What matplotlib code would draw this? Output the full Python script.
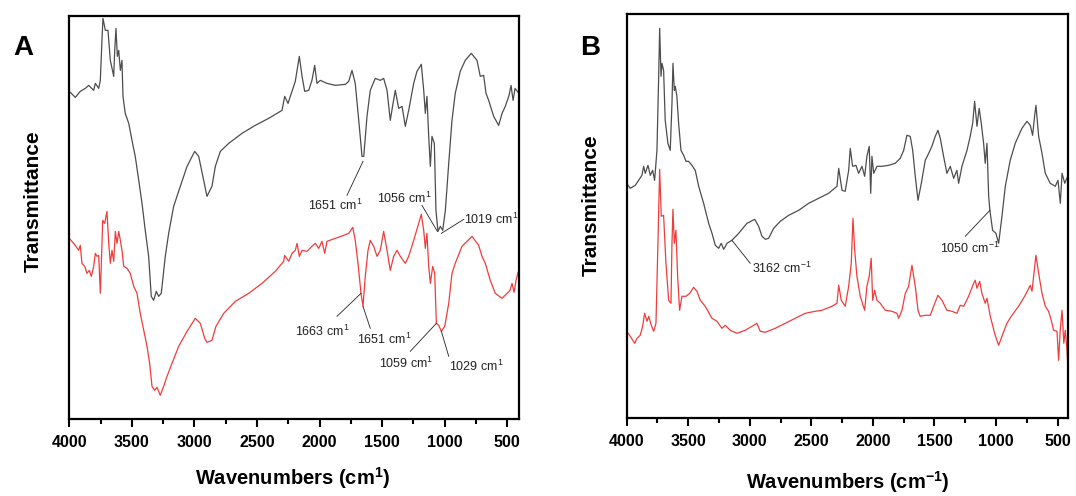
import matplotlib
matplotlib.use('Agg')
import matplotlib.pyplot as plt
import numpy as np

plt.rcParams['font.family'] = ['Liberation Sans', 'DejaVu Sans']
plt.rcParams['mathtext.fontset'] = 'custom'
plt.rcParams['mathtext.rm'] = 'Liberation Sans'
plt.rcParams['mathtext.bf'] = 'Liberation Sans:bold'

# ---- panel A : upper (gray) spectrum ----
a_gray_wn = [4000, 3952, 3912, 3872, 3845, 3805, 3792, 3765, 3752, 3739,
             3731, 3712, 3691, 3672, 3645, 3637, 3627, 3616, 3605, 3592,
             3579, 3571, 3553, 3525, 3499, 3473, 3445, 3419, 3393, 3366,
             3345, 3326, 3305, 3286, 3265, 3233, 3206, 3166, 3113, 3059,
             2998, 2966, 2926, 2900, 2860, 2833, 2793, 2726, 2620, 2514,
             2407, 2300, 2279, 2252, 2234, 2194, 2162, 2140, 2119, 2087,
             2061, 2039, 2021, 1994, 1941, 1874, 1794, 1767, 1741, 1715,
             1687, 1661, 1647, 1621, 1595, 1555, 1515, 1488, 1461, 1435,
             1413, 1395, 1368, 1341, 1315, 1288, 1248, 1222, 1187, 1168,
             1155, 1142, 1128, 1115, 1102, 1083, 1070, 1054, 1035, 1016,
             995, 968, 942, 916, 876, 836, 788, 742, 716, 689,
             670, 649, 609, 569, 542, 516, 486, 470, 454, 438,
             414]
a_gray_t = [328, 322, 328, 331, 334, 329, 336, 331, 339, 379,
            401, 389, 389, 359, 343, 369, 391, 363, 369, 349,
            359, 323, 306, 296, 279, 263, 239, 216, 189, 163,
            123, 119, 128, 123, 126, 163, 186, 213, 233, 253,
            268, 263, 239, 223, 233, 253, 268, 276, 286, 294,
            301, 309, 323, 316, 323, 338, 363, 343, 328, 329,
            339, 354, 336, 339, 336, 334, 335, 338, 349, 336,
            299, 263, 263, 303, 329, 341, 339, 341, 329, 299,
            316, 329, 311, 313, 293, 309, 336, 348, 355, 329,
            306, 323, 283, 253, 283, 276, 209, 188, 193, 189,
            209, 256, 299, 326, 348, 359, 366, 359, 343, 344,
            326, 319, 303, 294, 306, 313, 324, 334, 319, 331,
            327]

# ---- panel A : lower (red) spectrum ----
a_red_wn = [4000, 3952, 3925, 3912, 3899, 3877, 3859, 3840, 3824, 3805,
            3792, 3779, 3765, 3752, 3744, 3733, 3717, 3699, 3685, 3672,
            3659, 3645, 3632, 3619, 3605, 3592, 3579, 3565, 3539, 3513,
            3485, 3459, 3433, 3405, 3379, 3358, 3339, 3318, 3299, 3273,
            3246, 3219, 3179, 3126, 3059, 2993, 2953, 2918, 2900, 2860,
            2828, 2766, 2673, 2566, 2460, 2354, 2287, 2279, 2247, 2220,
            2194, 2180, 2162, 2140, 2101, 2061, 2034, 2007, 1981, 1959,
            1941, 1874, 1807, 1767, 1735, 1715, 1693, 1669, 1653, 1635,
            1613, 1595, 1568, 1541, 1515, 1488, 1461, 1435, 1408, 1381,
            1355, 1315, 1288, 1248, 1208, 1187, 1168, 1155, 1142, 1128,
            1115, 1096, 1080, 1067, 1048, 1027, 1000, 968, 942, 916,
            862, 782, 729, 702, 676, 636, 596, 542, 502, 478,
            462, 446, 430, 414]
a_red_t = [181, 174, 169, 174, 156, 153, 146, 149, 143, 153,
           166, 163, 164, 126, 156, 199, 196, 208, 176, 156,
           169, 158, 188, 176, 188, 179, 169, 153, 151, 146,
           133, 126, 106, 89, 73, 56, 33, 29, 32, 24,
           33, 43, 56, 73, 88, 101, 96, 81, 77, 79,
           93, 106, 118, 126, 136, 148, 158, 164, 158, 166,
           169, 176, 163, 169, 168, 173, 176, 171, 178, 166,
           178, 181, 184, 186, 192, 179, 156, 126, 113, 143,
           169, 179, 173, 163, 169, 188, 169, 149, 163, 169,
           163, 156, 163, 179, 196, 205, 189, 171, 186, 153,
           136, 153, 146, 96, 94, 88, 93, 116, 146, 156,
           173, 183, 174, 163, 156, 139, 126, 121, 126, 129,
           136, 127, 139, 147]

# ---- panel B : upper (gray) spectrum ----
b_gray_wn = [4000, 3971, 3930, 3903, 3876, 3862, 3849, 3827, 3808, 3789,
             3773, 3754, 3740, 3732, 3721, 3713, 3700, 3687, 3665, 3646,
             3632, 3624, 3613, 3605, 3592, 3578, 3559, 3537, 3518, 3497,
             3470, 3443, 3415, 3375, 3334, 3307, 3280, 3253, 3232, 3212,
             3185, 3145, 3090, 3023, 2960, 2928, 2901, 2874, 2847, 2806,
             2753, 2684, 2603, 2522, 2441, 2360, 2292, 2278, 2251, 2225,
             2197, 2184, 2165, 2138, 2116, 2089, 2067, 2049, 2030, 2018,
             2008, 1994, 1967, 1927, 1872, 1819, 1778, 1750, 1724, 1697,
             1677, 1656, 1634, 1607, 1575, 1547, 1521, 1494, 1472, 1453,
             1426, 1399, 1372, 1344, 1318, 1304, 1277, 1236, 1210, 1190,
             1174, 1155, 1137, 1120, 1101, 1088, 1074, 1060, 1050, 1028,
             1001, 979, 952, 925, 885, 844, 790, 749, 722, 703,
             687, 676, 654, 627, 600, 560, 519, 497, 478, 464,
             442, 418]
b_gray_t = [235, 230, 233, 238, 243, 252, 245, 253, 243, 248,
            238, 268, 342, 390, 342, 355, 348, 298, 275, 268,
            315, 355, 328, 332, 322, 295, 268, 263, 257, 257,
            253, 248, 232, 215, 195, 185, 173, 170, 175, 169,
            175, 178, 185, 195, 199, 192, 182, 179, 180, 190,
            197, 203, 208, 215, 220, 225, 232, 250, 228, 227,
            248, 270, 252, 253, 245, 252, 242, 262, 272, 225,
            262, 245, 252, 252, 253, 255, 260, 268, 283, 282,
            268, 242, 218, 235, 258, 265, 272, 282, 288, 280,
            262, 245, 252, 240, 248, 235, 252, 268, 282, 295,
            317, 292, 310, 295, 275, 255, 275, 222, 208, 188,
            185, 175, 202, 232, 258, 275, 290, 297, 293, 283,
            302, 313, 282, 265, 245, 235, 232, 238, 215, 245,
            235, 242]

# ---- panel B : lower (red) spectrum ----
b_red_wn = [4000, 3971, 3935, 3916, 3890, 3870, 3854, 3835, 3821, 3800,
            3781, 3762, 3746, 3732, 3719, 3700, 3681, 3659, 3640, 3632,
            3624, 3613, 3600, 3586, 3570, 3551, 3518, 3488, 3456, 3429,
            3402, 3362, 3307, 3267, 3226, 3199, 3159, 3104, 3037, 2982,
            2942, 2915, 2874, 2793, 2712, 2631, 2550, 2468, 2414, 2333,
            2292, 2278, 2257, 2225, 2197, 2176, 2162, 2148, 2130, 2103,
            2067, 2049, 2030, 2014, 2002, 1986, 1967, 1940, 1900, 1846,
            1805, 1791, 1764, 1737, 1710, 1683, 1656, 1634, 1616, 1575,
            1534, 1507, 1472, 1439, 1399, 1358, 1318, 1291, 1263, 1223,
            1182, 1169, 1155, 1133, 1115, 1088, 1074, 1047, 1007, 979,
            952, 912, 871, 817, 763, 722, 708, 695, 676, 654,
            627, 600, 573, 552, 532, 505, 492, 479, 464, 450,
            438, 424, 410]
b_red_t = [87, 82, 75, 80, 83, 92, 105, 97, 102, 93,
           87, 95, 175, 249, 202, 203, 155, 118, 115, 175,
           209, 175, 188, 142, 108, 122, 122, 125, 131, 127,
           118, 112, 100, 97, 90, 93, 88, 85, 88, 92,
           95, 87, 86, 90, 95, 100, 105, 107, 108, 112,
           115, 133, 118, 112, 132, 155, 200, 168, 142, 122,
           108, 132, 142, 160, 118, 128, 118, 115, 108, 107,
           105, 100, 108, 125, 132, 153, 132, 108, 102, 103,
           103, 112, 123, 118, 108, 107, 105, 113, 112, 122,
           135, 138, 130, 137, 125, 115, 120, 102, 83, 73,
           82, 95, 103, 112, 123, 133, 127, 142, 163, 145,
           125, 112, 107, 98, 88, 87, 58, 88, 108, 75,
           88, 68, 37]

# peak labels: text, peak (wn, T), leader end (wn, T), text pos (wn, T), ha
labels_a = [
    ('1651 cm$^{1}$', 1653, 258, 1781, 224, 1873, 214, 'center'),
    ('1056 cm$^{1}$', 1059, 188, 1182, 214, 1321, 221, 'center'),
    ('1019 cm$^{1}$', 1027, 186, 848, 200, 843, 200, 'left'),
    ('1663 cm$^{1}$', 1669, 126, 1861, 103, 1981, 88, 'center'),
    ('1651 cm$^{1}$', 1653, 113, 1595, 91, 1483, 80, 'center'),
    ('1059 cm$^{1}$', 1067, 96, 1275, 68, 1309, 56, 'center'),
    ('1029 cm$^{1}$', 1027, 88, 968, 63, 750, 53, 'center'),
]
labels_b = [
    ('3162 cm$^{-1}$', 3145, 178, 2996, 155, 2982, 150, 'left'),
    ('1050 cm$^{-1}$', 1050, 208, 1250, 182, 1216, 170, 'center'),
]

GRAY = '#4d4d4d'
RED = '#f03c3c'

fig = plt.figure(figsize=(10.76, 4.96), dpi=100)
axA = fig.add_axes([0.0644, 0.1546, 0.418, 0.813])
axB = fig.add_axes([0.5824, 0.1567, 0.4099, 0.815])


def style(ax, xmin, ytop):
    ax.set_xlim(4000, xmin)
    ax.set_ylim(0, ytop)
    ax.set_xticks(np.arange(4000, 499, -500))
    ax.set_xticks(np.arange(3750, 700, -500), minor=True)
    ax.set_yticks([])
    ax.tick_params(axis='x', which='major', direction='out', length=6,
                   width=1.5, labelsize=11.5, pad=5)
    ax.tick_params(axis='x', which='minor', direction='out', length=3.5, width=1.5)
    for t in ax.get_xticklabels():
        t.set_fontweight('bold')
    for s in ax.spines.values():
        s.set_linewidth(1.6)


def add_labels(ax, labels):
    for txt, px, py, lx, ly, tx, ty, ha in labels:
        ax.plot([px, lx], [py, ly], color='#222222', lw=0.6)
        ax.text(tx, ty, txt, fontsize=9, ha=ha, va='center', color='#222222')


axA.plot(a_gray_wn, a_gray_t, color=GRAY, lw=0.9)
axA.plot(a_red_wn, a_red_t, color=RED, lw=0.9)
style(axA, 406, 403.3)
add_labels(axA, labels_a)

axB.plot(b_gray_wn, b_gray_t, color=GRAY, lw=0.9)
axB.plot(b_red_wn, b_red_t, color=RED, lw=0.9)
style(axB, 418, 404.3)
add_labels(axB, labels_b)

fig.text(23 / 1076, 1 - 48 / 496, 'A', fontsize=20, fontweight='bold', ha='center', va='center')
fig.text(590 / 1076, 1 - 48 / 496, 'B', fontsize=20, fontweight='bold', ha='center', va='center')

fig.text(33 / 1076, 1 - 201 / 496, 'Transmittance', fontsize=15, fontweight='bold',
         rotation=90, ha='center', va='center')
fig.text(591 / 1076, 1 - 205 / 496, 'Transmittance', fontsize=15, fontweight='bold',
         rotation=90, ha='center', va='center')

fig.text(293 / 1076, 1 - 478 / 496, r'Wavenumbers (cm$^{\mathbf{1}}$)', fontsize=14.5,
         fontweight='bold', ha='center', va='center')
fig.text(848 / 1076, 1 - 482 / 496, r'Wavenumbers (cm$^{\mathbf{-1}}$)', fontsize=14.5,
         fontweight='bold', ha='center', va='center')

fig.savefig('out.png', dpi=100)
